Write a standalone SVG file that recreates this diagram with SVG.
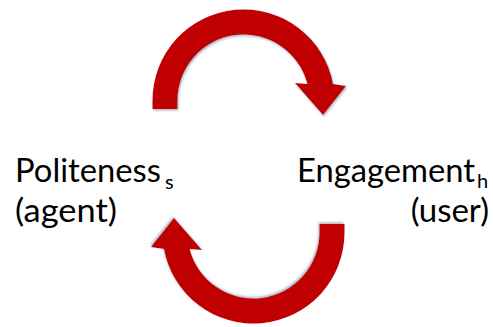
<svg xmlns="http://www.w3.org/2000/svg" width="493" height="327" viewBox="0 0 493 327">
  <defs>
    <style>
      .lbl { font-family: Lato, "Liberation Sans", sans-serif; font-size: 33px; fill: #000000; }
      .sub { font-family: Lato, "Liberation Sans", sans-serif; font-size: 20px; fill: #000000; }
      .arrow { fill: #C00000; filter: url(#shadow); }
    </style>
    <filter id="shadow" x="-10%" y="-10%" width="120%" height="120%">
      <feDropShadow dx="1" dy="1.5" stdDeviation="1" flood-color="#6f8296" flood-opacity="0.6"/>
    </filter>
    <path id="curl" d="M 152.5 109 L 152.5 100.5 A 91 91 0 0 1 333 84 L 346 86 L 323 115 L 295 83 L 307.4 84 A 66 66 0 0 0 177.5 100.5 L 177.5 109 Z"/>
  </defs>
  <rect width="493" height="327" fill="#ffffff"/>
  <g id="connectors">
    <use href="#curl" class="arrow"/>
    <use href="#curl" class="arrow" transform="rotate(180 248.5 166.5)"/>
  </g>
  <g id="politeness">
    <text class="lbl" x="15" y="182" textLength="146" lengthAdjust="spacingAndGlyphs">Politeness</text>
    <text class="sub" x="165" y="189">s</text>
    <text class="lbl" x="15" y="222" textLength="102" lengthAdjust="spacingAndGlyphs">(agent)</text>
  </g>
  <g id="engagement">
    <text class="lbl" x="297" y="182" textLength="178" lengthAdjust="spacingAndGlyphs">Engagement</text>
    <text class="sub" x="477" y="188">h</text>
    <text class="lbl" x="489" y="222" text-anchor="end">(user)</text>
  </g>
</svg>
